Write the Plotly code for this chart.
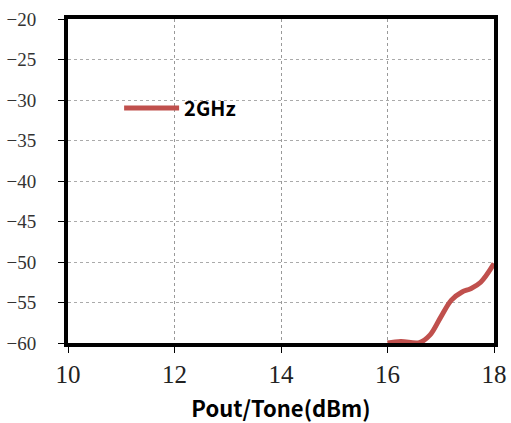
import plotly.graph_objects as go

pout = [16.0, 16.25, 16.6, 16.8, 17.0, 17.2, 17.4, 17.56, 17.75, 18.0]
im3 = [-60.0, -59.8, -59.95, -59.0, -56.8, -54.7, -53.7, -53.3, -52.5, -50.2]
series_name = "2GHz"
x_ticks = [10, 12, 14, 16, 18]
y_ticks = [-20, -25, -30, -35, -40, -45, -50, -55, -60]

fig = go.Figure()
fig.add_trace(go.Scatter(
    x=pout, y=im3, mode="lines", name=series_name,
    line=dict(color="#C0504D", width=5, shape="spline", smoothing=1.0),
))

fig.update_layout(
    width=511, height=423,
    margin=dict(l=68, r=17, t=19, b=80, autoexpand=False),
    plot_bgcolor="white", paper_bgcolor="white",
    showlegend=True,
    legend=dict(x=0.12, y=0.725, xanchor="left", yanchor="middle",
                bgcolor="rgba(0,0,0,0)", itemwidth=55,
                font=dict(family="Noto Sans CJK SC", size=20, color="black", weight="bold")),
)
fig.update_xaxes(
    range=[10, 18], tickvals=x_ticks, showline=True, linecolor="black", linewidth=4,
    mirror=True, ticks="outside", ticklen=6, tickcolor="black", tickwidth=1,
    showgrid=True, gridcolor="#999999", griddash="dot", gridwidth=1,
    tickfont=dict(family="Liberation Serif", size=25, color="#222"),
    title=dict(text="Pout/Tone(dBm)", standoff=16,
               font=dict(family="Noto Sans CJK SC", size=22, color="black", weight="bold")),
    zeroline=False, automargin=False,
)
fig.update_yaxes(
    range=[-60, -20], tickvals=y_ticks, showline=True, linecolor="black", linewidth=4,
    mirror=True, ticks="outside", ticklen=6, tickcolor="black", tickwidth=1,
    showgrid=True, gridcolor="#aaaaaa", griddash="dot", gridwidth=1,
    tickfont=dict(family="Liberation Serif", size=19, color="#333"),
    ticklabelstandoff=18,
    zeroline=False, automargin=False,
)

fig.write_html("out.html", config={"displayModeBar": False},
               post_script="document.body.style.margin='0';document.body.style.overflow='hidden';")
